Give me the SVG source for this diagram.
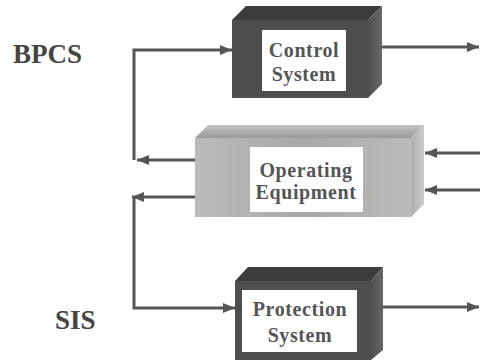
<svg xmlns="http://www.w3.org/2000/svg" width="480" height="360" viewBox="0 0 480 360">
  <defs>
    <marker id="arrow" viewBox="0 0 12 10" refX="12" refY="5" markerWidth="12" markerHeight="10" markerUnits="userSpaceOnUse" orient="auto">
      <path d="M0,0 L12,5 L0,10 Z" fill="#555"/>
    </marker>
    <linearGradient id="darkSide" x1="0" y1="0" x2="1" y2="0">
      <stop offset="0" stop-color="#4e4e4e"/>
      <stop offset="1" stop-color="#686868"/>
    </linearGradient>
    <linearGradient id="lightFront" x1="0" y1="0" x2="1" y2="0">
      <stop offset="0" stop-color="#bdbaba"/>
      <stop offset="0.5" stop-color="#aaa7a7"/>
      <stop offset="1" stop-color="#bdbaba"/>
    </linearGradient>
    <linearGradient id="lightTop" x1="0" y1="0" x2="0" y2="1">
      <stop offset="0" stop-color="#c6c3c3"/>
      <stop offset="1" stop-color="#9c9999"/>
    </linearGradient>
    <linearGradient id="lightSide" x1="0" y1="0" x2="1" y2="0">
      <stop offset="0" stop-color="#b0adad"/>
      <stop offset="1" stop-color="#cfcccc"/>
    </linearGradient>
  </defs>
  <style>
    .wire { fill: none; stroke: #555; stroke-width: 3; }
    .label { fill: #fff; }
    .txt { font-family: "Liberation Serif", "Times New Roman", serif; font-weight: bold; font-size: 20px; fill: #555; text-anchor: middle; letter-spacing: 0.6px; }
    .side { font-family: "Liberation Serif", "Times New Roman", serif; font-weight: bold; font-size: 27px; fill: #444; }
  </style>
  <rect width="480" height="360" fill="#fff"/>

  <text class="side" x="13" y="63">BPCS</text>
  <text class="side" x="55" y="329">SIS</text>

  <g id="connectors">
    <!-- BPCS loop -->
    <path class="wire" d="M134,160 V50 H232" marker-end="url(#arrow)"/>
    <path class="wire" d="M195,160 H137" marker-end="url(#arrow)"/>
    <path class="wire" d="M382,47 H479" marker-end="url(#arrow)"/>
    <!-- SIS loop -->
    <path class="wire" d="M195,197 H132" marker-end="url(#arrow)"/>
    <path class="wire" d="M134,197 V308 H235" marker-end="url(#arrow)"/>
    <path class="wire" d="M382,307 H479" marker-end="url(#arrow)"/>
    <!-- inputs to equipment -->
    <path class="wire" d="M480,153 H425" marker-end="url(#arrow)"/>
    <path class="wire" d="M480,190 H425" marker-end="url(#arrow)"/>
  </g>

  <g id="control-system">
    <rect x="232" y="20" width="136" height="78" fill="#4e4e4e"/>
    <polygon points="232,20 246,6 382,6 368,20" fill="#3c3c3c"/>
    <polygon points="368,20 382,6 382,84 368,98" fill="url(#darkSide)"/>
    <rect class="label" x="262" y="30" width="84" height="61"/>
    <text class="txt" x="304" y="57">Control</text>
    <text class="txt" x="304" y="81">System</text>
  </g>

  <g id="operating-equipment">
    <rect x="195" y="138" width="216" height="79" fill="url(#lightFront)"/>
    <polygon points="195,138 208,125 424,125 411,138" fill="url(#lightTop)"/>
    <polygon points="411,138 424,125 424,204 411,217" fill="url(#lightSide)"/>
    <rect class="label" x="250" y="147" width="113" height="65"/>
    <text class="txt" x="306" y="177">Operating</text>
    <text class="txt" x="306" y="199">Equipment</text>
  </g>

  <g id="protection-system">
    <rect x="235" y="281" width="136" height="79" fill="#4e4e4e"/>
    <polygon points="235,281 248,267 383,267 371,281" fill="#3c3c3c"/>
    <polygon points="371,281 383,267 383,350 371,360" fill="url(#darkSide)"/>
    <rect class="label" x="242" y="290" width="115" height="62"/>
    <text class="txt" x="300" y="316">Protection</text>
    <text class="txt" x="300" y="342">System</text>
  </g>
</svg>
